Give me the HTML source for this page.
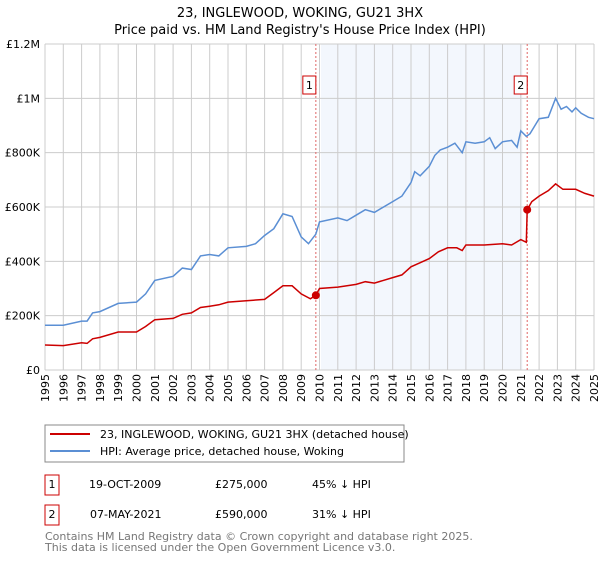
<!DOCTYPE html>
<html><head><meta charset="utf-8"><style>
body{margin:0;background:#fff;font-family:"Liberation Sans","DejaVu Sans",sans-serif}
svg text{font-family:"DejaVu Sans","Liberation Sans",sans-serif}
</style></head><body>
<svg id="c" width="600" height="560" xmlns="http://www.w3.org/2000/svg">
<text x="300" y="17" text-anchor="middle" font-size="13">23, INGLEWOOD, WOKING, GU21 3HX</text>
<text x="300" y="34" text-anchor="middle" font-size="13">Price paid vs. HM Land Registry's House Price Index (HPI)</text>
<g id="plot"></g>
<rect x="45" y="425" width="359" height="37" fill="#fff" stroke="#888"/>
<line x1="50" y1="434" x2="90" y2="434" stroke="#cc0000" stroke-width="2"/>
<text x="100" y="438" font-size="11">23, INGLEWOOD, WOKING, GU21 3HX (detached house)</text>
<line x1="50" y1="451" x2="90" y2="451" stroke="#5b8fd4" stroke-width="2"/>
<text x="100" y="455" font-size="11">HPI: Average price, detached house, Woking</text>
<g font-size="11">
<rect x="45" y="475" width="14" height="20" fill="none" stroke="#cc0000"/>
<text x="52" y="488" text-anchor="middle">1</text>
<text x="89" y="488">19-OCT-2009</text>
<text x="215" y="488">£275,000</text>
<text x="312" y="488">45% ↓ HPI</text>
<rect x="45" y="505" width="14" height="20" fill="none" stroke="#cc0000"/>
<text x="52" y="518" text-anchor="middle">2</text>
<text x="90" y="518">07-MAY-2021</text>
<text x="215" y="518">£590,000</text>
<text x="312" y="518">31% ↓ HPI</text>
</g>
<text x="45" y="540" font-size="11" fill="#777">Contains HM Land Registry data © Crown copyright and database right 2025.</text>
<text x="45" y="551" font-size="11" fill="#777">This data is licensed under the Open Government Licence v3.0.</text>
</svg>
<script>
const yTicks=[0,200,400,600,800,1000,1200];
const yTickLabels=["£0","£200K","£400K","£600K","£800K","£1M","£1.2M"];
const years=[1995,1996,1997,1998,1999,2000,2001,2002,2003,2004,2005,2006,2007,2008,2009,2010,2011,2012,2013,2014,2015,2016,2017,2018,2019,2020,2021,2022,2023,2024,2025];
const hpiT=[1995,1996,1997,1997.3,1997.6,1998,1999,2000,2000.5,2001,2002,2002.5,2003,2003.5,2004,2004.5,2005,2006,2006.5,2007,2007.5,2008,2008.5,2009,2009.4,2009.8,2010,2011,2011.5,2012,2012.5,2013,2014,2014.5,2015,2015.2,2015.5,2016,2016.3,2016.6,2017,2017.4,2017.8,2018,2018.5,2019,2019.3,2019.6,2020,2020.5,2020.8,2021,2021.3,2021.5,2022,2022.5,2022.9,2023.2,2023.5,2023.8,2024,2024.3,2024.7,2025];
const hpiV=[165,165,180,180,210,215,245,250,280,330,345,375,370,420,425,420,450,455,465,495,520,575,565,490,465,500,545,560,550,570,590,580,620,640,690,730,715,750,790,810,820,835,800,840,835,840,855,815,840,845,820,880,860,870,925,930,1000,960,970,950,965,945,930,925];
const ppT=[1995,1996,1997,1997.3,1997.6,1998,1999,2000,2000.5,2001,2002,2002.5,2003,2003.5,2004,2004.5,2005,2006,2007,2007.5,2008,2008.5,2009,2009.5,2009.8,2010,2011,2011.5,2012,2012.5,2013,2014,2014.5,2015,2015.5,2016,2016.5,2017,2017.5,2017.8,2018,2019,2020,2020.5,2021,2021.3,2021.35,2021.6,2022,2022.5,2022.9,2023.3,2024,2024.5,2025];
const ppV=[92,90,100,98,115,120,140,140,160,185,190,205,210,230,235,240,250,255,260,285,310,310,280,262,275,300,305,310,315,325,320,340,350,380,395,410,435,450,450,440,460,460,465,460,480,470,590,620,640,660,685,665,665,650,640];
const saleT=[2009.8,2021.35];
const saleV=[275,590];
const saleLabels=["1","2"];
const shade=[2010.08,2021.09];
const NS="http://www.w3.org/2000/svg";
const L=45,R=594,T=44,B=370;
const x=t=>L+(t-1995)/30*(R-L);
const y=v=>B-v/1200*(B-T);
const g=document.getElementById('plot');
function mk(tag,attrs){const e=document.createElementNS(NS,tag);for(const k in attrs)e.setAttribute(k,attrs[k]);g.appendChild(e);return e;}
let e=mk('rect',{x:x(shade[0]),y:T,width:x(shade[1])-x(shade[0]),height:B-T,fill:'#f3f7fd'});


years.forEach(yr=>{const l=mk('line',{x1:x(yr),x2:x(yr),y1:T,y2:B,stroke:'#ccc','stroke-width':1});


const t=mk('text',{x:0,y:0,'font-size':11,'text-anchor':'end',transform:`translate(${x(yr)+4},${B+4}) rotate(-90)`});t.textContent=yr;

});
yTicks.forEach((v,i)=>{const l=mk('line',{x1:L,x2:R,y1:y(v),y2:y(v),stroke:'#ccc','stroke-width':1});


const t=mk('text',{x:L-5,y:y(v)+4,'font-size':11,'text-anchor':'end'});t.textContent=yTickLabels[i];

});
saleT.forEach((t,i)=>{const l=mk('line',{x1:x(t),x2:x(t),y1:T,y2:B,stroke:'#e06666','stroke-width':1,'stroke-dasharray':'2,2'});


const r=mk('rect',{x:x(t)-13,y:76,width:13,height:18,fill:'#fff',stroke:'#cc0000'});


const tx=mk('text',{x:x(t)-6.5,y:89,'font-size':11,'text-anchor':'middle'});tx.textContent=saleLabels[i];

});
const pts=(ts,vs)=>ts.map((t,i)=>x(t).toFixed(1)+','+y(vs[i]).toFixed(1)).join(' ');
e=mk('polyline',{points:pts(hpiT,hpiV),fill:'none',stroke:'#5b8fd4','stroke-width':1.5});


e=mk('polyline',{points:pts(ppT,ppV),fill:'none',stroke:'#cc0000','stroke-width':1.5});


saleT.forEach((t,i)=>{const c=mk('circle',{cx:x(t),cy:y(saleV[i]),r:4,fill:'#cc0000'});

});
</script>
</body></html>
